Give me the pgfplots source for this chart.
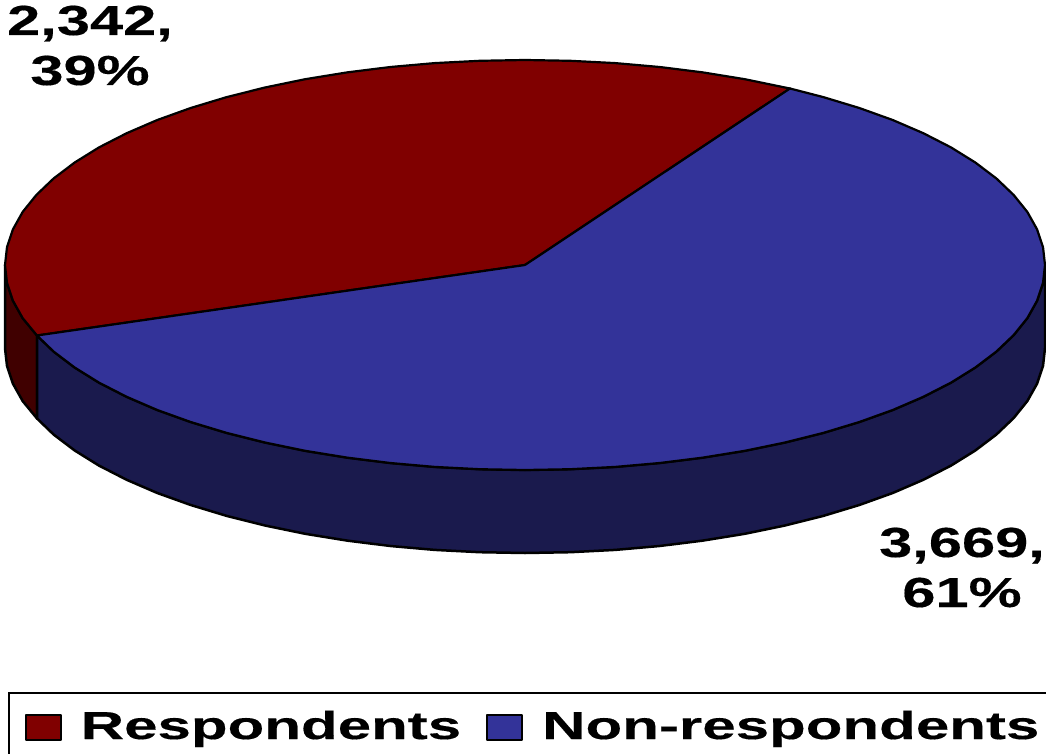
\documentclass[border=0pt]{standalone}
\usepackage{fontspec}
\usepackage{pgfplots}
\pgfplotsset{compat=1.18}
\newfontfamily\lblfont[FakeStretch=1.42,FakeBold=0.3]{Liberation Sans Bold}
\newfontfamily\legfont[FakeStretch=1.54,FakeBold=0.3]{Liberation Sans Bold}
\definecolor{redtop}{RGB}{128,0,0}
\definecolor{redside}{RGB}{64,0,0}
\definecolor{bluetop}{RGB}{51,51,153}
\definecolor{blueside}{RGB}{26,26,77}
\begin{document}
\begin{tikzpicture}
\useasboundingbox (0,0) rectangle (1046pt,754pt);
\clip (0,0) rectangle (1046pt,754pt);
\begin{axis}[
  at={(0,0)}, anchor=south west,
  scale only axis, width=1046pt, height=754pt,
  xmin=0, xmax=1046, ymin=0, ymax=754,
  y dir=reverse,
  axis lines=none,
  clip=false,
  legend columns=2,
  legend cell align=left,
  legend style={
    at={(axis cs:8,692)}, anchor=north west,
    draw=black, line width=1.5pt, fill=white,
    inner xsep=16pt, inner ysep=16pt,
    font=\fontsize{39}{44}\selectfont\legfont,
    /tikz/every odd column/.append style={column sep=17pt},
    /tikz/every even column/.append style={column sep=23pt},
  },
  legend image code/.code={
    \draw[#1, line width=2pt] (0pt,-14pt) rectangle (35pt,11pt);
  },
]
% side of the red slice
\addplot[forget plot, fill=redside, draw=black, line width=2.5pt, line join=round] table {
5 265
7 282.9
12.9 300.6
22.7 318.1
37 335.5
37 418.5
22.7 401.1
12.9 383.6
7 365.9
5 348
5 265
};
% side of the blue slice
\addplot[forget plot, fill=blueside, draw=black, line width=2.5pt, line join=round] table {
37 335.5
53.7 351.6
74.7 367.5
99 382.6
126.7 396.8
157.3 410
190.7 422
226.7 432.9
265 442.5
305.2 450.8
347.1 457.6
390.4 463
434.7 466.9
479.7 469.2
525 470
570.3 469.2
615.3 466.9
659.6 463
702.9 457.6
744.8 450.8
785 442.5
823.3 432.9
859.3 422
892.7 410
923.3 396.8
951 382.6
975.3 367.5
996.3 351.6
1013.6 335.1
1027.3 318.1
1037.1 300.6
1043 282.9
1045 265
1045 348
1043 365.9
1037.1 383.6
1027.3 401.1
1013.6 418.1
996.3 434.6
975.3 450.5
951 465.6
923.3 479.8
892.7 493
859.3 505
823.3 515.9
785 525.5
744.8 533.8
702.9 540.6
659.6 546
615.3 549.9
570.3 552.2
525 553
479.7 552.2
434.7 549.9
390.4 546
347.1 540.6
305.2 533.8
265 525.5
226.7 515.9
190.7 505
157.3 493
126.7 479.8
99 465.6
74.7 450.5
53.7 434.6
37 418.5
37 335.5
};
% top of the red slice
\addplot[fill=redtop, draw=black, line width=2.2pt, line join=round] table {
525 265
790 88.5
785 87.5
744.8 79.2
702.9 72.4
659.6 67
615.3 63.1
570.3 60.8
525 60
479.7 60.8
434.7 63.1
390.4 67
347.1 72.4
305.2 79.2
265 87.5
226.7 97.1
190.7 108
157.3 120
126.7 133.2
99 147.4
74.7 162.5
53.7 178.4
36.4 194.9
22.7 211.9
12.9 229.4
7 247.1
5 265
7 282.9
12.9 300.6
22.7 318.1
37 335.5
525 265
};
\addlegendentry{Respondents}
% top of the blue slice
\addplot[fill=bluetop, draw=black, line width=2.2pt, line join=round] table {
525 265
37 335.5
53.7 351.6
74.7 367.5
99 382.6
126.7 396.8
157.3 410
190.7 422
226.7 432.9
265 442.5
305.2 450.8
347.1 457.6
390.4 463
434.7 466.9
479.7 469.2
525 470
570.3 469.2
615.3 466.9
659.6 463
702.9 457.6
744.8 450.8
785 442.5
823.3 432.9
859.3 422
892.7 410
923.3 396.8
951 382.6
975.3 367.5
996.3 351.6
1013.6 335.1
1027.3 318.1
1037.1 300.6
1043 282.9
1045 265
1043 247.1
1037.1 229.4
1027.3 211.9
1013.6 194.9
996.3 178.4
975.3 162.5
951 147.4
923.3 133.2
892.7 120
859.3 108
823.3 97.1
790 88.5
525 265
};
\addlegendentry{Non-respondents}
\node[anchor=base, font=\fontsize{42}{44}\selectfont\lblfont, inner sep=0pt] at (axis cs:90,35) {2,342,};
\node[anchor=base, font=\fontsize{42}{44}\selectfont\lblfont, inner sep=0pt] at (axis cs:90,85) {39\%};
\node[anchor=base, font=\fontsize{42}{44}\selectfont\lblfont, inner sep=0pt] at (axis cs:962,557) {3,669,};
\node[anchor=base, font=\fontsize{42}{44}\selectfont\lblfont, inner sep=0pt] at (axis cs:962,607) {61\%};
\end{axis}
\end{tikzpicture}
\end{document}
